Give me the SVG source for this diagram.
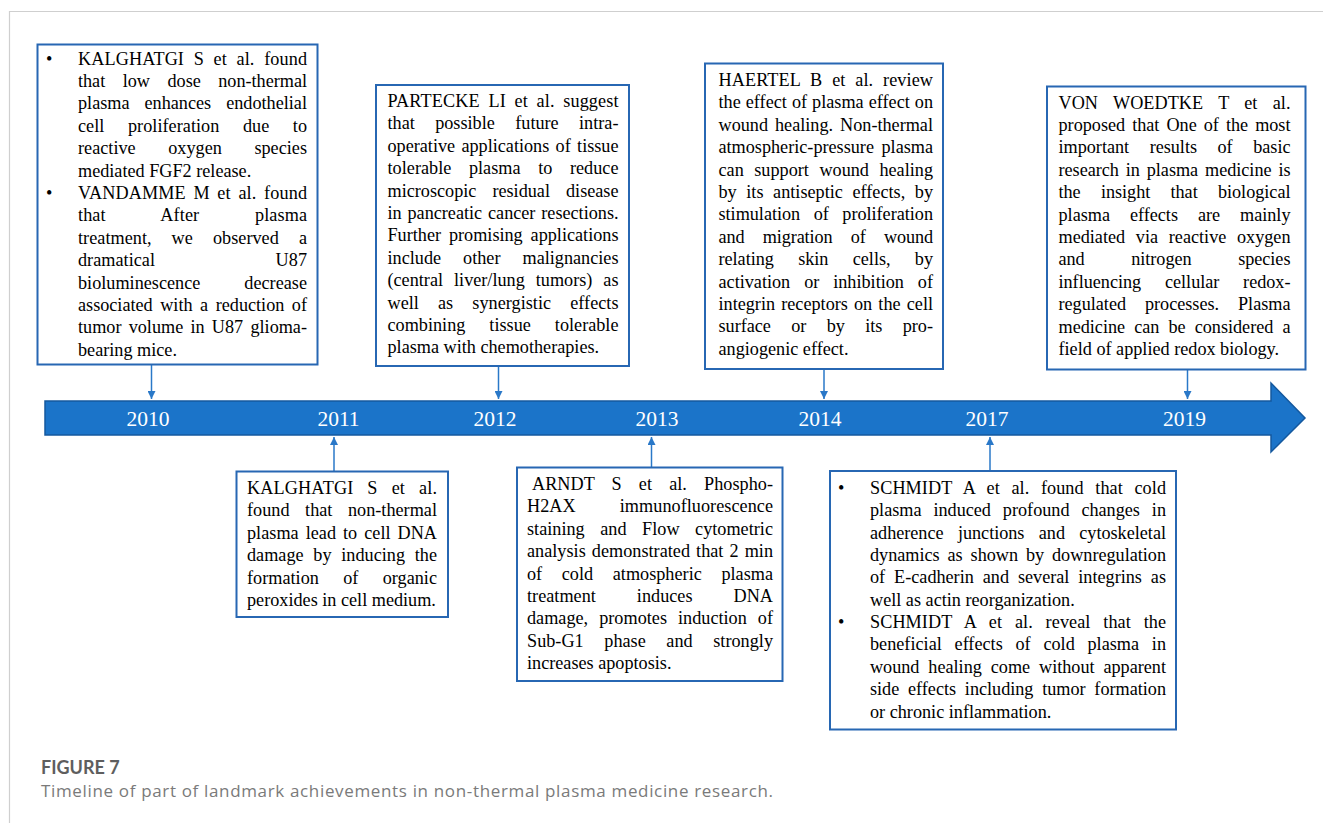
<svg xmlns="http://www.w3.org/2000/svg" width="1323" height="823" viewBox="0 0 1323 823">
<style>
.t{font-family:"Liberation Serif","Times New Roman",serif;font-size:18.2px;fill:#000}
.box{fill:#fff;stroke:#2767b3;stroke-width:2}
.yr{font-family:"Liberation Serif","Times New Roman",serif;font-size:21.5px;fill:#fff;text-anchor:middle}
.conn{stroke:#2a78c8;stroke-width:1.5;fill:none;marker-end:url(#ah)}
.frame{stroke:#cfcfcf;stroke-width:1.2;fill:none}
.cap1{font-family:Lato,"Open Sans",sans-serif;font-size:18px;font-weight:700;fill:#5e5e5e}
.cap2{font-family:"Open Sans","Noto Sans",sans-serif;font-size:17px;fill:#7a7a7a}
</style>
<defs>
<marker id="ah" markerUnits="userSpaceOnUse" markerWidth="9" markerHeight="8" refX="8" refY="4" orient="auto">
<path d="M0,0 L8,4 L0,8 z" fill="#2a78c8"/>
</marker>
</defs>
<rect width="1323" height="823" fill="#fff"/>
<path class="frame" d="M9.5,823 V11.5 H1323"/>

<g id="timeline">
<path d="M45,401 H1271 V383 L1305,418 L1271,452 V435 H45 Z" fill="#1b74c9" stroke="#14589e" stroke-width="1.5"/>
<text class="yr" x="148" y="426">2010</text>
<text class="yr" x="338.5" y="426">2011</text>
<text class="yr" x="495" y="426">2012</text>
<text class="yr" x="657" y="426">2013</text>
<text class="yr" x="820" y="426">2014</text>
<text class="yr" x="987" y="426">2017</text>
<text class="yr" x="1184.5" y="426">2019</text>
</g>

<g id="connectors">
<line class="conn" x1="151.5" y1="365" x2="151.5" y2="399"/>
<line class="conn" x1="498.5" y1="367" x2="498.5" y2="399"/>
<line class="conn" x1="824" y1="370" x2="824" y2="399"/>
<line class="conn" x1="1187.5" y1="370" x2="1187.5" y2="399"/>
<line class="conn" x1="334" y1="471" x2="334" y2="437"/>
<line class="conn" x1="651.5" y1="467" x2="651.5" y2="437"/>
<line class="conn" x1="990" y1="471" x2="990" y2="437"/>
</g>

<g id="node-2010">
<rect class="box" x="37.5" y="44.5" width="280" height="320"/>
<text class="t" x="46" y="64.5">•</text>
<text class="t" x="78" y="64.5" textLength="229" lengthAdjust="spacing" word-spacing="5">KALGHATGI S et al. found</text>
<text class="t" x="78" y="86.9" textLength="229" lengthAdjust="spacing" word-spacing="13">that low dose non-thermal</text>
<text class="t" x="78" y="109.3" textLength="229" lengthAdjust="spacing" word-spacing="10.5">plasma enhances endothelial</text>
<text class="t" x="78" y="131.7" textLength="229" lengthAdjust="spacing" word-spacing="19">cell proliferation due to</text>
<text class="t" x="78" y="154.1" textLength="229" lengthAdjust="spacing" word-spacing="28">reactive oxygen species</text>
<text class="t" x="78" y="176.5">mediated FGF2 release.</text>
<text class="t" x="46" y="198.9">•</text>
<text class="t" x="78" y="198.9" textLength="229" lengthAdjust="spacing" word-spacing="3">VANDAMME M et al. found</text>
<text class="t" x="78" y="221.3" textLength="229" lengthAdjust="spacing" word-spacing="51">that After plasma</text>
<text class="t" x="78" y="243.7" textLength="229" lengthAdjust="spacing" word-spacing="15.5">treatment, we observed a</text>
<text class="t" x="78" y="266.1" textLength="229" lengthAdjust="spacing" word-spacing="116">dramatical U87</text>
<text class="t" x="78" y="288.5" textLength="229" lengthAdjust="spacing" word-spacing="39.5">bioluminescence decrease</text>
<text class="t" x="78" y="310.9" textLength="229" lengthAdjust="spacing" word-spacing="3">associated with a reduction of</text>
<text class="t" x="78" y="333.3" textLength="229" lengthAdjust="spacing" word-spacing="2.7">tumor volume in U87 glioma-</text>
<text class="t" x="78" y="355.7">bearing mice.</text>
</g>

<g id="node-2012">
<rect class="box" x="376" y="85" width="253" height="281"/>
<text class="t" x="387.5" y="107" textLength="231" lengthAdjust="spacing" word-spacing="4">PARTECKE LI et al. suggest</text>
<text class="t" x="387.5" y="129.4" textLength="231" lengthAdjust="spacing" word-spacing="15.8">that possible future intra-</text>
<text class="t" x="387.5" y="151.8" textLength="231" lengthAdjust="spacing" word-spacing="1.8">operative applications of tissue</text>
<text class="t" x="387.5" y="174.2" textLength="231" lengthAdjust="spacing" word-spacing="13">tolerable plasma to reduce</text>
<text class="t" x="387.5" y="196.6" textLength="231" lengthAdjust="spacing" word-spacing="11.5">microscopic residual disease</text>
<text class="t" x="387.5" y="219" textLength="231" lengthAdjust="spacing" word-spacing="1.3">in pancreatic cancer resections.</text>
<text class="t" x="387.5" y="241.4" textLength="231" lengthAdjust="spacing" word-spacing="3.3">Further promising applications</text>
<text class="t" x="387.5" y="263.8" textLength="231" lengthAdjust="spacing" word-spacing="17.5">include other malignancies</text>
<text class="t" x="387.5" y="286.2" textLength="231" lengthAdjust="spacing" word-spacing="6.5">(central liver/lung tumors) as</text>
<text class="t" x="387.5" y="308.6" textLength="231" lengthAdjust="spacing" word-spacing="14.5">well as synergistic effects</text>
<text class="t" x="387.5" y="331" textLength="231" lengthAdjust="spacing" word-spacing="19.5">combining tissue tolerable</text>
<text class="t" x="387.5" y="353.4">plasma with chemotherapies.</text>
</g>

<g id="node-2014">
<rect class="box" x="705" y="63.5" width="238" height="305.5"/>
<text class="t" x="718.5" y="86" textLength="214.5" lengthAdjust="spacing" word-spacing="5.2">HAERTEL B et al. review</text>
<text class="t" x="718.5" y="108.4" textLength="214.5" lengthAdjust="spacing" word-spacing="0.5">the effect of plasma effect on</text>
<text class="t" x="718.5" y="130.8" textLength="214.5" lengthAdjust="spacing" word-spacing="2.5">wound healing. Non-thermal</text>
<text class="t" x="718.5" y="153.2" textLength="214.5" lengthAdjust="spacing" word-spacing="3">atmospheric-pressure plasma</text>
<text class="t" x="718.5" y="175.6" textLength="214.5" lengthAdjust="spacing" word-spacing="6">can support wound healing</text>
<text class="t" x="718.5" y="198" textLength="214.5" lengthAdjust="spacing" word-spacing="5">by its antiseptic effects, by</text>
<text class="t" x="718.5" y="220.4" textLength="214.5" lengthAdjust="spacing" word-spacing="9">stimulation of proliferation</text>
<text class="t" x="718.5" y="242.8" textLength="214.5" lengthAdjust="spacing" word-spacing="13.8">and migration of wound</text>
<text class="t" x="718.5" y="265.2" textLength="214.5" lengthAdjust="spacing" word-spacing="19.8">relating skin cells, by</text>
<text class="t" x="718.5" y="287.6" textLength="214.5" lengthAdjust="spacing" word-spacing="9.4">activation or inhibition of</text>
<text class="t" x="718.5" y="310" textLength="214.5" lengthAdjust="spacing" word-spacing="1.6">integrin receptors on the cell</text>
<text class="t" x="718.5" y="332.4" textLength="214.5" lengthAdjust="spacing" word-spacing="15.8">surface or by its pro-</text>
<text class="t" x="718.5" y="354.8">angiogenic effect.</text>
</g>

<g id="node-2019">
<rect class="box" x="1047" y="86.5" width="258.5" height="283"/>
<text class="t" x="1058.5" y="108.5" textLength="232" lengthAdjust="spacing" word-spacing="10.7">VON WOEDTKE T et al.</text>
<text class="t" x="1058.5" y="130.9" textLength="232" lengthAdjust="spacing" word-spacing="2.5">proposed that One of the most</text>
<text class="t" x="1058.5" y="153.3" textLength="232" lengthAdjust="spacing" word-spacing="16">important results of basic</text>
<text class="t" x="1058.5" y="175.7" textLength="232" lengthAdjust="spacing" word-spacing="2.3">research in plasma medicine is</text>
<text class="t" x="1058.5" y="198.1" textLength="232" lengthAdjust="spacing" word-spacing="15.7">the insight that biological</text>
<text class="t" x="1058.5" y="220.5" textLength="232" lengthAdjust="spacing" word-spacing="15.4">plasma effects are mainly</text>
<text class="t" x="1058.5" y="242.9" textLength="232" lengthAdjust="spacing" word-spacing="6.2">mediated via reactive oxygen</text>
<text class="t" x="1058.5" y="265.3" textLength="232" lengthAdjust="spacing" word-spacing="42">and nitrogen species</text>
<text class="t" x="1058.5" y="287.7" textLength="232" lengthAdjust="spacing" word-spacing="19.2">influencing cellular redox-</text>
<text class="t" x="1058.5" y="310.1" textLength="232" lengthAdjust="spacing" word-spacing="14.4">regulated processes. Plasma</text>
<text class="t" x="1058.5" y="332.5" textLength="232" lengthAdjust="spacing" word-spacing="4.5">medicine can be considered a</text>
<text class="t" x="1058.5" y="354.9">field of applied redox biology.</text>
</g>

<g id="node-2011">
<rect class="box" x="236.5" y="471.5" width="211.5" height="145.5"/>
<text class="t" x="247" y="494" textLength="190" lengthAdjust="spacing" word-spacing="9.3">KALGHATGI S et al.</text>
<text class="t" x="247" y="516.4" textLength="190" lengthAdjust="spacing" word-spacing="11">found that non-thermal</text>
<text class="t" x="247" y="538.8" textLength="190" lengthAdjust="spacing" word-spacing="2.4">plasma lead to cell DNA</text>
<text class="t" x="247" y="561.2" textLength="190" lengthAdjust="spacing" word-spacing="5.2">damage by inducing the</text>
<text class="t" x="247" y="583.6" textLength="190" lengthAdjust="spacing" word-spacing="19.7">formation of organic</text>
<text class="t" x="247" y="606">peroxides in cell medium.</text>
</g>

<g id="node-2013">
<rect class="box" x="517" y="467.5" width="265.5" height="213.5"/>
<text class="t" x="532" y="490" textLength="241" lengthAdjust="spacing" word-spacing="12.5">ARNDT S et al. Phospho-</text>
<text class="t" x="527" y="512.4" textLength="246" lengthAdjust="spacing" word-spacing="39.5">H2AX immunofluorescence</text>
<text class="t" x="527" y="534.8" textLength="246" lengthAdjust="spacing" word-spacing="11">staining and Flow cytometric</text>
<text class="t" x="527" y="557.2" textLength="246" lengthAdjust="spacing" word-spacing="1.5">analysis demonstrated that 2 min</text>
<text class="t" x="527" y="579.6" textLength="246" lengthAdjust="spacing" word-spacing="15">of cold atmospheric plasma</text>
<text class="t" x="527" y="602" textLength="246" lengthAdjust="spacing" word-spacing="36.5">treatment induces DNA</text>
<text class="t" x="527" y="624.4" textLength="246" lengthAdjust="spacing" word-spacing="6.5">damage, promotes induction of</text>
<text class="t" x="527" y="646.8" textLength="246" lengthAdjust="spacing" word-spacing="16">Sub-G1 phase and strongly</text>
<text class="t" x="527" y="669.2">increases apoptosis.</text>
</g>

<g id="node-2017">
<rect class="box" x="830" y="471" width="346" height="258.5"/>
<text class="t" x="838" y="494">•</text>
<text class="t" x="870" y="494" textLength="296" lengthAdjust="spacing" word-spacing="7">SCHMIDT A et al. found that cold</text>
<text class="t" x="870" y="516.35" textLength="296" lengthAdjust="spacing" word-spacing="7.4">plasma induced profound changes in</text>
<text class="t" x="870" y="538.7" textLength="296" lengthAdjust="spacing" word-spacing="9.8">adherence junctions and cytoskeletal</text>
<text class="t" x="870" y="561.05" textLength="296" lengthAdjust="spacing" word-spacing="3.4">dynamics as shown by downregulation</text>
<text class="t" x="870" y="583.4" textLength="296" lengthAdjust="spacing" word-spacing="4.4">of E-cadherin and several integrins as</text>
<text class="t" x="870" y="605.75">well as actin reorganization.</text>
<text class="t" x="838" y="628.1">•</text>
<text class="t" x="870" y="628.1" textLength="296" lengthAdjust="spacing" word-spacing="8.2">SCHMIDT A et al. reveal that the</text>
<text class="t" x="870" y="650.45" textLength="296" lengthAdjust="spacing" word-spacing="8.2">beneficial effects of cold plasma in</text>
<text class="t" x="870" y="672.8" textLength="296" lengthAdjust="spacing" word-spacing="4.4">wound healing come without apparent</text>
<text class="t" x="870" y="695.15" textLength="296" lengthAdjust="spacing" word-spacing="4.2">side effects including tumor formation</text>
<text class="t" x="870" y="717.5">or chronic inflammation.</text>
</g>

<g id="caption">
<text class="cap1" x="41" y="774">FIGURE 7</text>
<text class="cap2" x="41" y="797" textLength="732" lengthAdjust="spacing">Timeline of part of landmark achievements in non-thermal plasma medicine research.</text>
</g>
</svg>
